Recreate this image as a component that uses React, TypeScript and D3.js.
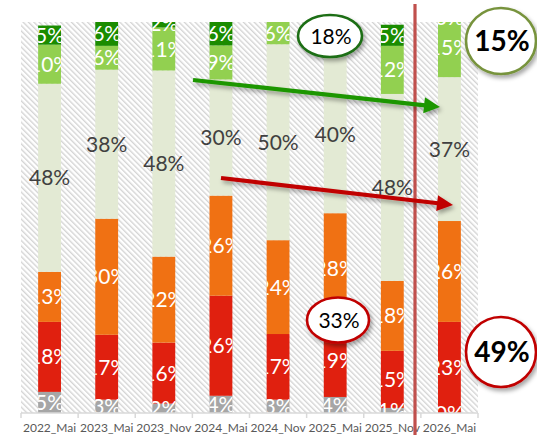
import React, {Component} from 'react'
import * as d3 from 'd3'

interface Props {}

// categories and shares (%), bottom segment first
const categories = ['2022_Mai', '2023_Mai', '2023_Nov', '2024_Mai', '2024_Nov', '2025_Mai', '2025_Nov', '2026_Mai']
const greySeries = [5.4, 3.4, 2.4, 4.4, 3.4, 4.1, 1.3, 0]
const redSeries = [17.9, 16.6, 15.6, 25.6, 16.8, 18.9, 14.6, 23.3]
const orangeSeries = [12.8, 29.7, 22.0, 25.6, 24.0, 28.1, 17.9, 25.8]
const paleSeries = [48.1, 38.1, 47.6, 29.7, 50.1, 40.4, 47.8, 36.8]
const lightGreenSeries = [10.0, 6.1, 11.0, 8.7, 5.7, 6.4, 12.3, 15.2]
const darkGreenSeries = [4.9, 6.2, 2.0, 6.3, null, 2.0, 5.4, 0]

const seriesList = [
  {key: 'grey', values: greySeries, color: '#a6a6a6', text: '#ffffff'},
  {key: 'red', values: redSeries, color: '#e0200f', text: '#ffffff'},
  {key: 'orange', values: orangeSeries, color: '#f07113', text: '#ffffff'},
  {key: 'pale', values: paleSeries, color: '#e3ead4', text: '#404040'},
  {key: 'lgreen', values: lightGreenSeries, color: '#92d050', text: '#ffffff'},
  {key: 'dgreen', values: darkGreenSeries, color: '#1a8c00', text: '#ffffff'},
]

// callout bubbles
const bubbleLabels = ['18%', '15%', '33%', '49%']

const W = 537
const H = 435
const plot = {left: 21, right: 478, top: 22, bottom: 413}
const labelFont = 'Lato, "Open Sans", sans-serif'

const bubbles = [
  {cx: 330, cy: 36, rx: 32, ry: 21, stroke: '#1d6e12', size: 21, weight: 400},
  {cx: 501, cy: 41, rx: 35, ry: 33, stroke: '#77933c', size: 28, weight: 700},
  {cx: 338, cy: 320, rx: 31, ry: 22.5, stroke: '#c00000', size: 21, weight: 400},
  {cx: 501, cy: 352, rx: 35, ry: 35, stroke: '#c00000', size: 28, weight: 700},
]

class App extends Component<Props> {
  draw() {
    const svg = d3.select('#stackChart')
    svg.selectAll('*').remove()

    const x = d3.scaleBand<string>()
      .domain(categories)
      .range([plot.left, plot.right])
      .paddingInner(0.6)
      .paddingOuter(0.3)
    const y = d3.scaleLinear().domain([0, 100]).range([plot.bottom, plot.top])
    const bw = x.bandwidth()
    const step = x.step()

    const defs = svg.append('defs')
    const pat = defs.append('pattern')
      .attr('id', 'hatch')
      .attr('patternUnits', 'userSpaceOnUse')
      .attr('width', 3.8)
      .attr('height', 3.8)
      .attr('patternTransform', 'rotate(-45)')
    pat.append('rect').attr('width', 3.8).attr('height', 3.8).attr('fill', '#ffffff')
    pat.append('line')
      .attr('x1', 0.7).attr('x2', 0.7).attr('y1', 0).attr('y2', 3.8)
      .attr('stroke', '#d2d2d2').attr('stroke-width', 1.3)

    defs.append('clipPath').attr('id', 'plotClip')
      .append('rect')
      .attr('x', 0).attr('y', plot.top)
      .attr('width', W).attr('height', plot.bottom - plot.top)

    const shadow = defs.append('filter').attr('id', 'shadow')
      .attr('x', '-30%').attr('y', '-30%').attr('width', '160%').attr('height', '160%')
    shadow.append('feDropShadow')
      .attr('dx', 2).attr('dy', 3).attr('stdDeviation', 2)
      .attr('flood-color', '#000').attr('flood-opacity', 0.35)

    categories.forEach((c, i) => {
      defs.append('clipPath').attr('id', 'barClip' + i)
        .append('rect')
        .attr('x', x(c)!).attr('y', plot.top)
        .attr('width', bw).attr('height', plot.bottom - plot.top)
    })

    // hatched plot area
    svg.append('rect')
      .attr('x', plot.left).attr('y', plot.top)
      .attr('width', plot.right - plot.left).attr('height', plot.bottom - plot.top)
      .attr('fill', 'url(#hatch)')

    // stacked segments
    const segs: any[] = []
    categories.forEach((c, i) => {
      let base = 0
      seriesList.forEach(s => {
        const v = s.values[i]
        if (v === null || v === undefined) return
        segs.push({cat: c, i, y0: base, y1: base + v, v, s})
        base += v
      })
    })

    const bars = svg.append('g').attr('clip-path', 'url(#plotClip)')
    bars.selectAll('rect')
      .data(segs)
      .join('rect')
      .attr('x', d => x(d.cat)!)
      .attr('width', bw)
      .attr('y', d => y(d.y1))
      .attr('height', d => y(d.y0) - y(d.y1))
      .attr('fill', d => d.s.color)

    // labels: white ones clipped to their bar, dark ones free; skip ones hidden under a bubble
    const fmt = (v: number) => Math.round(v) + '%'
    const hidden = (px: number, py: number) => bubbles.some(b =>
      ((px - b.cx) / b.rx) ** 2 + ((py - b.cy) / b.ry) ** 2 < 1)
    segs.forEach(d => {
      const px = x(d.cat)! + bw / 2
      const py = y((d.y0 + d.y1) / 2)
      if (hidden(px, py)) return
      const t = svg.append('text')
        .attr('x', px)
        .attr('y', py)
        .attr('dy', '0.36em')
        .attr('text-anchor', 'middle')
        .attr('font-family', labelFont)
        .attr('font-size', 21)
        .attr('fill', d.s.text)
        .text(fmt(d.v))
      if (d.s.text === '#ffffff') t.attr('clip-path', 'url(#barClip' + d.i + ')')
    })

    // x axis
    const axis = svg.append('g')
    axis.append('line')
      .attr('x1', plot.left).attr('x2', plot.right)
      .attr('y1', plot.bottom).attr('y2', plot.bottom)
      .attr('stroke', '#d9d9d9').attr('stroke-width', 1.5)
    axis.selectAll('line.tick')
      .data(d3.range(categories.length + 1))
      .join('line')
      .attr('class', 'tick')
      .attr('x1', i => plot.left + i * step).attr('x2', i => plot.left + i * step)
      .attr('y1', plot.bottom).attr('y2', plot.bottom + 5)
      .attr('stroke', '#d9d9d9').attr('stroke-width', 1.5)
    axis.selectAll('text')
      .data(categories)
      .join('text')
      .attr('x', d => x(d)! + bw / 2)
      .attr('y', 432)
      .attr('text-anchor', 'middle')
      .attr('font-family', labelFont)
      .attr('font-size', 12)
      .attr('fill', '#595959')
      .text(d => d)

    // forecast separator
    svg.append('line')
      .attr('x1', 415).attr('x2', 415).attr('y1', 4).attr('y2', H)
      .attr('stroke', '#c0504d').attr('stroke-width', 3.2)

    // trend arrows
    const arrow = (x1: number, y1: number, x2: number, y2: number, color: string) => {
      const len = Math.hypot(x2 - x1, y2 - y1)
      const ux = (x2 - x1) / len, uy = (y2 - y1) / len
      const head = 16, half = 8
      const bx = x2 - ux * head, by = y2 - uy * head
      const g = svg.append('g').attr('filter', 'url(#shadow)')
      g.append('line')
        .attr('x1', x1).attr('y1', y1).attr('x2', bx + ux).attr('y2', by + uy)
        .attr('stroke', color).attr('stroke-width', 4.2)
      g.append('path')
        .attr('d', `M${x2},${y2}L${bx - uy * half},${by + ux * half}L${bx + uy * half},${by - ux * half}Z`)
        .attr('fill', color)
    }
    arrow(193, 80, 440, 107, '#1e9600')
    arrow(221, 178, 453, 205, '#c00000')

    // callout bubbles
    bubbles.forEach((b, i) => {
      const g = svg.append('g')
      g.append('ellipse')
        .attr('cx', b.cx).attr('cy', b.cy).attr('rx', b.rx).attr('ry', b.ry)
        .attr('fill', '#ffffff').attr('stroke', b.stroke).attr('stroke-width', 2.6)
        .attr('filter', 'url(#shadow)')
      g.append('text')
        .attr('x', b.cx + 1).attr('y', b.cy)
        .attr('dy', '0.36em')
        .attr('text-anchor', 'middle')
        .attr('font-family', labelFont)
        .attr('font-size', b.size)
        .attr('font-weight', b.weight)
        .attr('fill', '#000000')
        .text(bubbleLabels[i])
    })
  }

  componentDidMount() {
    this.draw()
  }

  render() {
    return (
      <svg
        id="stackChart"
        width={W}
        height={H}
        style={{position: 'absolute', left: 0, top: 0, display: 'block', background: '#ffffff'}}
      />
    )
  }
}

export default App
